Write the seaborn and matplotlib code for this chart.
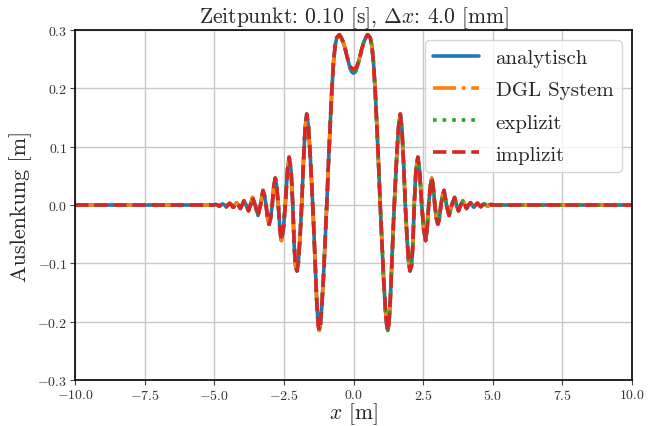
import numpy as np
import pandas as pd
import seaborn as sns
import matplotlib.pyplot as plt

# Werte (x in m, Auslenkung in m)
x_welle = [-10.0, -5.10, -5.01, -4.95, -4.88, -4.82, -4.76, -4.70, -4.63, -4.57,
           -4.51, -4.45, -4.38, -4.32, -4.26, -4.20, -4.13, -4.06, -4.00, -3.93,
           -3.85, -3.77, -3.70, -3.63, -3.53, -3.43, -3.34, -3.25, -3.20, -3.14,
           -3.08, -3.03, -2.98, -2.92, -2.86, -2.81, -2.76, -2.70, -2.64, -2.59,
           -2.52, -2.45, -2.37, -2.31, -2.24, -2.18, -2.13, -2.08, -2.03, -1.98,
           -1.92, -1.86, -1.80, -1.74, -1.68, -1.62, -1.56, -1.50, -1.44, -1.38,
           -1.32, -1.27, -1.23, -1.19, -1.14, -1.08, -1.02, -0.96, -0.90, -0.84,
           -0.78, -0.72, -0.66, -0.60, -0.51, -0.44, -0.37, -0.30, -0.24, -0.18,
           0.18, 0.24, 0.30, 0.37, 0.44, 0.51, 0.60, 0.66, 0.72, 0.78,
           0.84, 0.90, 0.96, 1.02, 1.08, 1.14, 1.19, 1.23, 1.27, 1.32,
           1.38, 1.44, 1.50, 1.56, 1.62, 1.68, 1.74, 1.80, 1.86, 1.92,
           1.98, 2.03, 2.08, 2.13, 2.18, 2.24, 2.31, 2.37, 2.45, 2.52,
           2.59, 2.64, 2.70, 2.76, 2.81, 2.86, 2.92, 2.98, 3.03, 3.08,
           3.14, 3.20, 3.25, 3.34, 3.43, 3.53, 3.63, 3.70, 3.77, 3.85,
           3.93, 4.00, 4.06, 4.13, 4.20, 4.26, 4.32, 4.38, 4.45, 4.51,
           4.57, 4.63, 4.70, 4.76, 4.82, 4.88, 4.95, 5.01, 5.10, 10.0]
y_welle = [0.0, 0.0, 0.0, 0.001, 0.0, -0.002, 0.0, 0.002, 0.0, -0.003,
           0.0, 0.003, 0.0, -0.004, 0.0, 0.004, 0.0, -0.006, 0.0, 0.007,
           0.0, -0.010, 0.0, 0.013, 0.0, -0.018, 0.0, 0.025, 0.017, 0.0,
           -0.024, -0.033, -0.024, 0.0, 0.033, 0.046, 0.033, 0.0, -0.043, -0.061,
           -0.042, 0.0, 0.060, 0.082, 0.058, 0.0, -0.070, -0.105, -0.113, -0.098,
           -0.055, 0.0, 0.070, 0.130, 0.156, 0.135, 0.090, 0.035, -0.025, -0.095,
           -0.165, -0.205, -0.215, -0.205, -0.175, -0.125, -0.062, 0.0, 0.070, 0.135,
           0.195, 0.243, 0.273, 0.287, 0.292, 0.287, 0.279, 0.268, 0.256, 0.245,
           0.245, 0.256, 0.268, 0.279, 0.287, 0.292, 0.287, 0.273, 0.243, 0.195,
           0.135, 0.070, 0.0, -0.062, -0.125, -0.175, -0.205, -0.215, -0.205, -0.165,
           -0.095, -0.025, 0.035, 0.090, 0.135, 0.156, 0.130, 0.070, 0.0, -0.055,
           -0.098, -0.113, -0.105, -0.070, 0.0, 0.058, 0.082, 0.060, 0.0, -0.042,
           -0.061, -0.043, 0.0, 0.033, 0.046, 0.033, 0.0, -0.024, -0.033, -0.024,
           0.0, 0.017, 0.025, 0.0, -0.018, 0.0, 0.013, 0.0, -0.010, 0.0,
           0.007, 0.0, -0.006, 0.0, 0.004, 0.0, -0.004, 0.0, 0.003, 0.0,
           -0.003, 0.0, 0.002, 0.0, -0.002, 0.0, 0.001, 0.0, 0.0, 0.0]

# Mulde in der Mitte: analytisch/explizit etwas tiefer als die anderen
x_mitte = [-0.12, -0.06, 0.0, 0.06, 0.12]
y_mitte_analytisch = [0.234, 0.228, 0.226, 0.228, 0.234]
y_mitte_numerisch = [0.238, 0.234, 0.233, 0.234, 0.238]

methoden = ["analytisch", "DGL System", "explizit", "implizit"]
farben = ["#1f77b4", "#ff7f0e", "#2ca02c", "#d62728"]
linien = ["-", "-.", ":", "--"]


def kurve(y_mitte):
    df = pd.DataFrame({"x": x_welle + x_mitte, "y": y_welle + y_mitte})
    return df.sort_values("x")


kurven = {
    "analytisch": kurve(y_mitte_analytisch),
    "DGL System": kurve(y_mitte_numerisch),
    "explizit": kurve(y_mitte_analytisch),
    "implizit": kurve(y_mitte_numerisch),
}

sns.set_style("whitegrid")
plt.rcParams.update({
    "font.family": "serif",
    "font.serif": ["cmr10"],
    "mathtext.fontset": "cm",
    "axes.formatter.use_mathtext": True,
    "axes.edgecolor": "black",
    "axes.linewidth": 1.2,
    "grid.color": "#c8c8c8",
    "grid.linewidth": 1.0,
    "xtick.bottom": True,
    "ytick.left": True,
    "xtick.major.size": 3.5,
    "ytick.major.size": 3.5,
    "xtick.major.pad": 2,
    "ytick.major.pad": 2,
    "xtick.color": "#444444",
    "ytick.color": "#444444",
    "xtick.labelcolor": "#333333",
    "ytick.labelcolor": "#333333",
})

fig = plt.figure(figsize=(6.58, 4.27), dpi=100)
ax = fig.add_axes([75 / 658, 1 - 381 / 427, 557 / 658, 350 / 427])

for name, farbe, ls in zip(methoden, farben, linien):
    df = kurven[name]
    sns.lineplot(x="x", y="y", data=df, color=farbe, linestyle=ls, lw=2.6,
                 label=name, sort=False, ax=ax)

ax.set_xlim(-10, 10)
ax.set_ylim(-0.3, 0.3)
ax.set_xticks(np.arange(-10, 10.1, 2.5))
ax.set_yticks(np.arange(-0.3, 0.31, 0.1))
ax.tick_params(labelsize=10)
ax.set_title(r"Zeitpunkt: 0.10 [s], $\Delta x$: 4.0 [mm]", fontsize=15.5, pad=3)
ax.set_xlabel(r"$x$ [m]", fontsize=15.5, labelpad=-1)
ax.set_ylabel("Auslenkung [m]", fontsize=16, labelpad=4)
ax.legend(loc="upper right", fontsize=15, framealpha=0.8,
          labelspacing=0.65, handlelength=2.2)

fig.savefig("out.png", dpi=100)
